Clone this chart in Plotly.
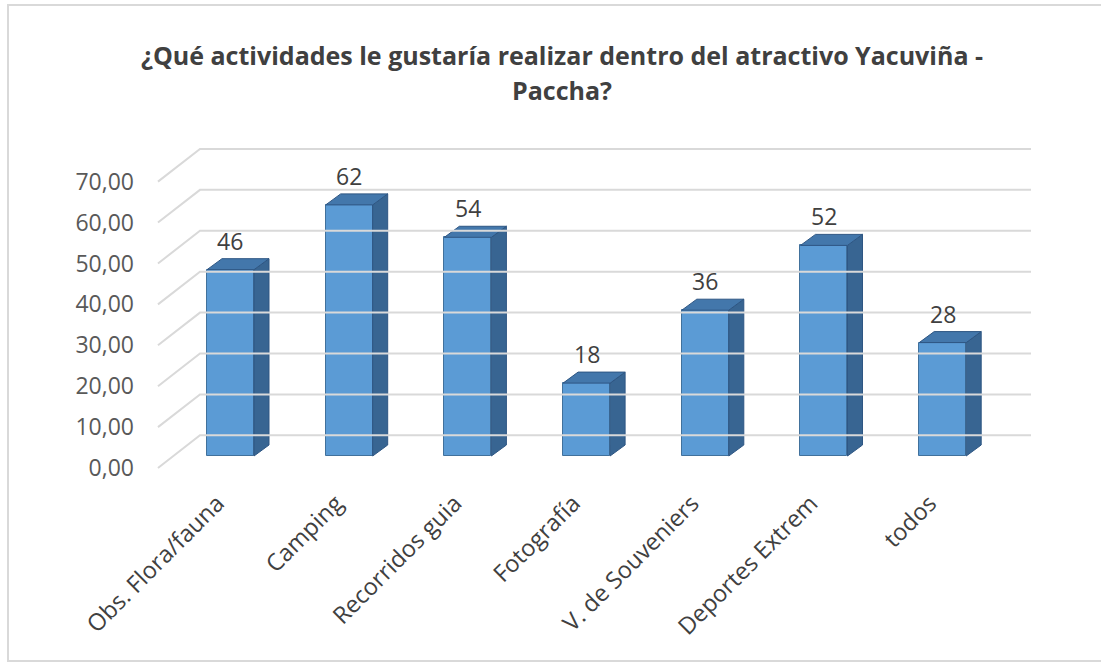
import plotly.graph_objects as go

categories = ["Obs. Flora/fauna", "Camping", "Recorridos guia", "Fotografía",
              "V. de Souveniers", "Deportes Extrem", "todos"]
values = [46, 62, 54, 18, 36, 52, 28]
tick_vals = [0, 10, 20, 30, 40, 50, 60, 70]
tick_text = ["0,00", "10,00", "20,00", "30,00", "40,00", "50,00", "60,00", "70,00"]
title_lines = ["¿Qué actividades le gustaría realizar dentro del atractivo Yacuviña -", "Paccha?"]

W, H = 1101, 662
FONT = "Open Sans"
TXT = "#404040"

# geometry (axis units)
bar_w = 0.396
ddx = 0.1264      # bar depth, x units
ddy = 2.72        # bar depth, value units
wall_dx = 0.354   # side wall depth, x units
wall_dy = 8.0     # side wall depth, y2 units
front_x = -0.611
wall_end = 6.744
label_shift = -0.11

xr = [-1.9418, 7.3337]
yr = [-50.86, 112.59]      # bars
y2r = [-47.4, 114.4]       # walls / ticks

fig = go.Figure()

# back wall gridlines + side-wall diagonals
gx, gy = [], []
for v in tick_vals:
    gx += [front_x, front_x + wall_dx, wall_end, None]
    gy += [v, v + wall_dy, v + wall_dy, None]
fig.add_trace(go.Scatter(x=gx, y=gy, mode="lines", yaxis="y2",
                         line=dict(color="#d9d9d9", width=2),
                         hoverinfo="skip", showlegend=False))

# front faces
fig.add_trace(go.Bar(x=list(range(len(values))), y=values, width=bar_w,
                     marker=dict(color="#5b9bd5", line=dict(color="#41719c", width=1)),
                     showlegend=False, hoverinfo="skip"))

# side and top faces
for i, v in enumerate(values):
    r = i + bar_w / 2
    l = i - bar_w / 2
    fig.add_trace(go.Scatter(
        x=[r, r + ddx, r + ddx, r, r], y=[0, ddy, v + ddy, v, 0],
        mode="lines", fill="toself", fillcolor="#386592",
        line=dict(color="#2e5683", width=1), hoverinfo="skip", showlegend=False))
    fig.add_trace(go.Scatter(
        x=[l, l + ddx, r + ddx, r, l], y=[v, v + ddy, v + ddy, v, v],
        mode="lines", fill="toself", fillcolor="#4377ab",
        line=dict(color="#2e5683", width=1), hoverinfo="skip", showlegend=False))

annotations = []
for i, v in enumerate(values):
    annotations.append(dict(x=i, y=v, xref="x", yref="y", text=str(v), showarrow=False,
                            yshift=29, yanchor="middle",
                            font=dict(family=FONT, size=23, color=TXT)))
for k, (line, py) in enumerate(zip(title_lines, [55, 90])):
    annotations.append(dict(x=562 / W, y=1 - py / H, xref="paper", yref="paper",
                            text="<b>" + line + "</b>", showarrow=False,
                            xanchor="center", yanchor="middle",
                            font=dict(family=FONT, size=25, color=TXT)))

fig.update_layout(
    width=W, height=H,
    margin=dict(l=0, r=0, t=0, b=0, pad=0),
    paper_bgcolor="white", plot_bgcolor="white",
    xaxis=dict(range=xr, domain=[0, 1], tickmode="array",
               tickvals=[i + label_shift for i in range(len(categories))], ticktext=categories,
               tickangle=-45, showgrid=False, zeroline=False, showline=False,
               ticks="", anchor="free", position=1 - 484 / H,
               tickfont=dict(family=FONT, size=23.5, color=TXT), fixedrange=True),
    yaxis=dict(range=yr, domain=[0, 1], visible=False, fixedrange=True),
    yaxis2=dict(range=y2r, overlaying="y", anchor="free", position=158 / W, side="left",
                tickmode="array", tickvals=tick_vals, ticktext=tick_text,
                showgrid=False, zeroline=False, showline=False, ticks="",
                ticklabelstandoff=24,
                tickfont=dict(family=FONT, size=23, color="#595959"), fixedrange=True),
    annotations=annotations,
    shapes=[dict(type="rect", xref="paper", yref="paper",
                 x0=8 / W, x1=1.01, y0=1 - 661 / H, y1=1 - 5 / H,
                 line=dict(color="#d9d9d9", width=2), layer="below")],
    bargap=0,
)

fig.write_html("out.html")
